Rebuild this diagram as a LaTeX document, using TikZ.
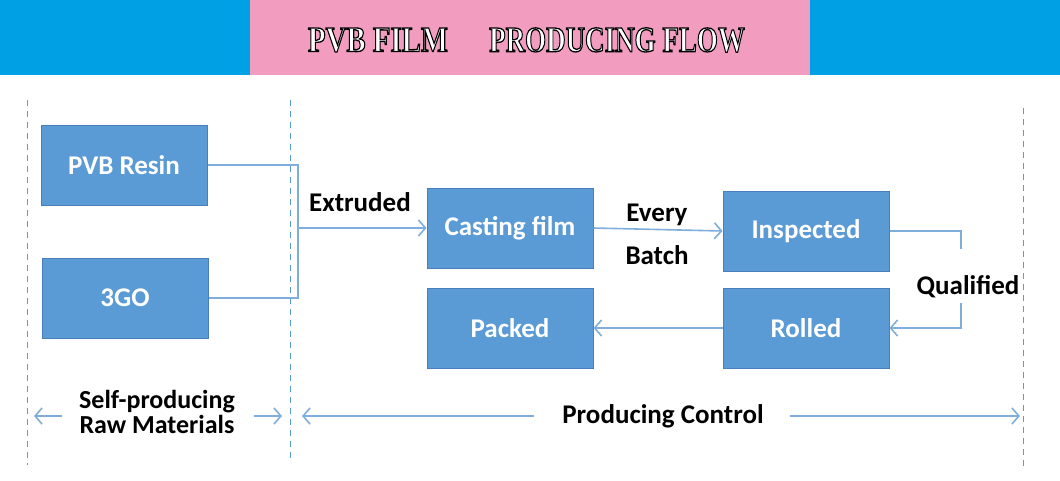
\documentclass[tikz,border=0pt]{standalone}
\usepackage{fontspec}
\setmainfont{Carlito}
\newfontfamily\titlefont{Liberation Serif}
\usetikzlibrary{arrows.meta}
\definecolor{bandblue}{HTML}{00A0E4}
\definecolor{bandpink}{HTML}{F29CC0}
\definecolor{boxblue}{HTML}{5B9BD5}
\definecolor{boxedge}{HTML}{4A7EBB}
\definecolor{linkblue}{HTML}{7FAEDC}
\definecolor{dashblue}{HTML}{5B9BD5}
\newcommand{\outlined}[1]{\special{pdf:literal direct 2 Tr 1.3 w 0 0 0 RG 1 1 1 rg}#1}
\tikzset{
  stepbox/.style={draw=boxedge, line width=1pt, fill=boxblue, minimum width=166pt, minimum height=80pt, inner sep=0pt, text=white, font=\fontsize{27}{29}\selectfont\bfseries},
  lbl/.style={text=black, font=\fontsize{27}{29}\selectfont\bfseries, align=center, inner sep=0pt},
  link/.style={draw=linkblue, line width=1.6pt},
  arr/.style={link, -{Straight Barb[length=7pt, width=16pt, line width=1.6pt]}},
  sep/.style={draw=dashblue, line width=1pt, dash pattern=on 6pt off 5pt},
  titletxt/.style={font=\titlefont\fontsize{36}{36}\selectfont\bfseries, inner sep=0pt, text=white}
}
\begin{document}
\begin{tikzpicture}[x=1pt,y=-1pt]
\useasboundingbox (0,0) rectangle (1060,480);
\fill[white] (0,0) rectangle (1060,480);
% banner
\fill[bandblue] (0,0) rectangle (1060,75);
\fill[bandpink] (250,0) rectangle (810,75);
\node[titletxt, xscale=0.8] (t1) at (378,40) {\outlined{PVB FILM}};
\node[titletxt, xscale=0.75] (t2) at (617,40) {\outlined{PRODUCING FLOW}};
% dashed separators
\draw[sep] (27,100) -- (27,465);
\draw[sep] (290,100) -- (290,462);
\draw[sep] (1023,108) -- (1023,467);
% boxes
\node[stepbox] (resin) at (124,165) {PVB Resin};
\node[stepbox] (go) at (125,298) {3GO};
\node[stepbox] (cast) at (510,228) {Casting film};
\node[stepbox] (insp) at (806,231) {Inspected};
\node[stepbox] (rolled) at (806,328) {Rolled};
\node[stepbox] (packed) at (510,328) {Packed};
% connectors
\coordinate (j) at (298,228);
\draw[link] (resin.east) -| (j);
\draw[link] (go.east) -| (j);
\draw[arr] (j) -- (cast.west);
\node[lbl] (ext) at (360,202) {Extruded};
\draw[arr] (cast.east) -- (insp.west);
\node[lbl] (every) at (657,215) {Every};
\node[lbl] (batch) at (657,255) {Batch};
\coordinate (q1) at (961,249);
\coordinate (q2) at (961,303);
\draw[link] (insp.east) -| (q1);
\draw[arr] (q2) |- (rolled.east);
\node[lbl] (qual) at (968,287) {Qualified};
\draw[arr] (rolled.west) -- (packed.east);
% bottom labels
\node[lbl, font=\fontsize{26}{25}\selectfont\bfseries] (self) at (157,412) {Self-producing\\Raw Materials};
\coordinate (a1) at (62,416);
\coordinate (a1e) at (34,416);
\coordinate (a2) at (254,416);
\coordinate (a2e) at (282,416);
\draw[arr] (a1) -- (a1e);
\draw[arr] (a2) -- (a2e);
\node[lbl] (pc) at (663,416) {Producing Control};
\coordinate (b1) at (534,416);
\coordinate (b1e) at (302,416);
\coordinate (b2) at (790,416);
\coordinate (b2e) at (1020,416);
\draw[arr] (b1) -- (b1e);
\draw[arr] (b2) -- (b2e);
\end{tikzpicture}
\end{document}
